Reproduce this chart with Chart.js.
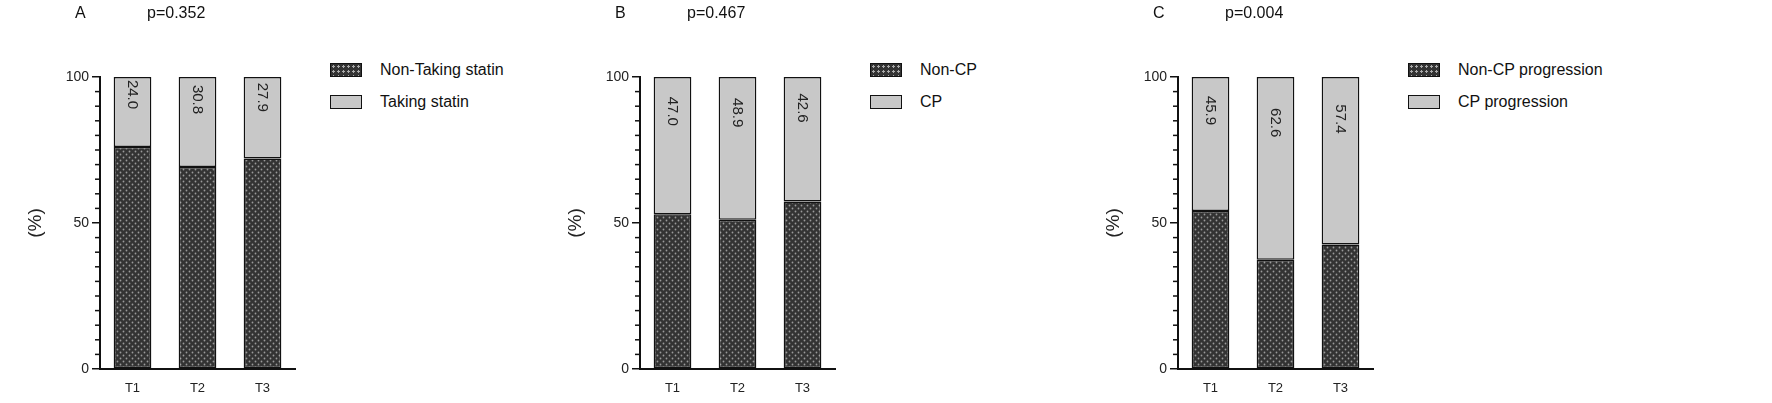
<!DOCTYPE html>
<html><head><meta charset="utf-8">
<script src="https://cdn.jsdelivr.net/npm/chart.js@4"></script>
<style>
body{margin:0;width:1772px;height:403px;background:#fff;position:relative;font-family:Arial,"Liberation Sans",sans-serif;overflow:hidden}
.c{position:absolute;top:0}
.t{position:absolute;font-size:16px;color:#111}
.lg{position:absolute;font-size:16px;color:#111}
.lg div{height:32px;display:flex;align-items:center}
.sw{width:32px;height:14px;border:1.5px solid #111;margin-right:18px;box-sizing:border-box}
.dk{background-color:#333;background-image:radial-gradient(#aaa 1px,transparent 1.2px);background-size:5px 5px}
.lt{background:#c8c8c8}
</style></head><body>
<script>
const categories=["T1","T2","T3"];
const panelLetters=["A","B","C"];
const pValues=["p=0.352","p=0.467","p=0.004"];
const lowerLabels=["Non-Taking statin","Non-CP","Non-CP progression"];
const upperLabels=["Taking statin","CP","CP progression"];
const lowerA=[76.0,69.2,72.1];
const upperA=[24.0,30.8,27.9];
const lowerB=[53.0,51.1,57.4];
const upperB=[47.0,48.9,42.6];
const lowerC=[54.1,37.4,42.6];
const upperC=[45.9,62.6,57.4];
const lowers=[lowerA,lowerB,lowerC], uppers=[upperA,upperB,upperC];
const yTicks=[0,50,100];
const lefts=[20,560,1098];

function dotPattern(){
  const p=document.createElement('canvas');p.width=6;p.height=6;
  const x=p.getContext('2d');x.fillStyle='#333';x.fillRect(0,0,6,6);
  x.fillStyle='#9a9a9a';x.beginPath();x.arc(1.5,1.5,0.9,0,7);x.fill();x.beginPath();x.arc(4.5,4.5,0.9,0,7);x.fill();
  return x.createPattern(p,'repeat');
}
const extras={id:'extras',afterDraw(ch){
  const c=ch.ctx,y=ch.scales.y,xs=ch.scales.x;
  c.save();c.strokeStyle='#111';c.lineWidth=1.5;
  for(let v=0;v<=100;v+=5){if(v%50===0)continue;const py=y.getPixelForValue(v);c.beginPath();c.moveTo(y.right-5,py);c.lineTo(y.right,py);c.stroke();}
  const meta=ch.getDatasetMeta(1);const up=ch.data.datasets[1].data;
  c.fillStyle='#222';c.font='15px Arial';c.textAlign='center';c.textBaseline='middle';
  meta.data.forEach((b,i)=>{const h=b.base-b.y;const cy=b.y+h*0.25;c.save();c.translate(b.x,cy);c.rotate(Math.PI/2);c.fillText(up[i].toFixed(1),0,0);c.restore();});
  c.restore();
}};
const pat=dotPattern();
for(let k=0;k<3;k++){
  const L=lefts[k];
  const cv=document.createElement('canvas');cv.className='c';cv.style.left=L+'px';cv.width=285;cv.height=403;cv.style.width='285px';cv.style.height='403px';document.body.appendChild(cv);
  const a=document.createElement('div');a.className='t';a.style.left=(L+55)+'px';a.style.top='4px';a.textContent=panelLetters[k];document.body.appendChild(a);
  const p=document.createElement('div');p.className='t';p.style.left=(L+127)+'px';p.style.top='4px';p.textContent=pValues[k];document.body.appendChild(p);
  const lg=document.createElement('div');lg.className='lg';lg.style.left=(L+310)+'px';lg.style.top='54px';
  lg.innerHTML='<div><span class="sw dk"></span>'+lowerLabels[k]+'</div><div><span class="sw lt"></span>'+upperLabels[k]+'</div>';document.body.appendChild(lg);
  new Chart(cv,{type:'bar',data:{labels:categories,datasets:[
    {data:lowers[k],backgroundColor:pat,borderColor:'#111',borderWidth:1.5,borderSkipped:false,barPercentage:0.58,categoryPercentage:1},
    {data:uppers[k],backgroundColor:'#c8c8c8',borderColor:'#111',borderWidth:1.5,borderSkipped:false,barPercentage:0.58,categoryPercentage:1}]},
   options:{responsive:false,animation:false,layout:{padding:{top:77,right:10,left:0,bottom:0}},
    plugins:{legend:{display:false},tooltip:{enabled:false}},
    scales:{x:{stacked:true,afterFit:s=>{s.height=34},grid:{display:false,drawTicks:true},border:{color:'#111',width:2},
       ticks:{color:'#222',font:{size:13},padding:4}},
     y:{stacked:true,min:0,max:100,afterFit:s=>{s.width=80},afterBuildTicks:s=>{s.ticks=yTicks.map(v=>({value:v}))},
       grid:{drawOnChartArea:false,tickLength:8,color:'#111',lineWidth:1.5},border:{color:'#111',width:2},
       ticks:{color:'#222',font:{size:14},padding:3},
       title:{display:true,text:'(%)',color:'#222',font:{size:19},padding:{bottom:20}}}}},
   plugins:[extras]});
}
</script></body></html>
